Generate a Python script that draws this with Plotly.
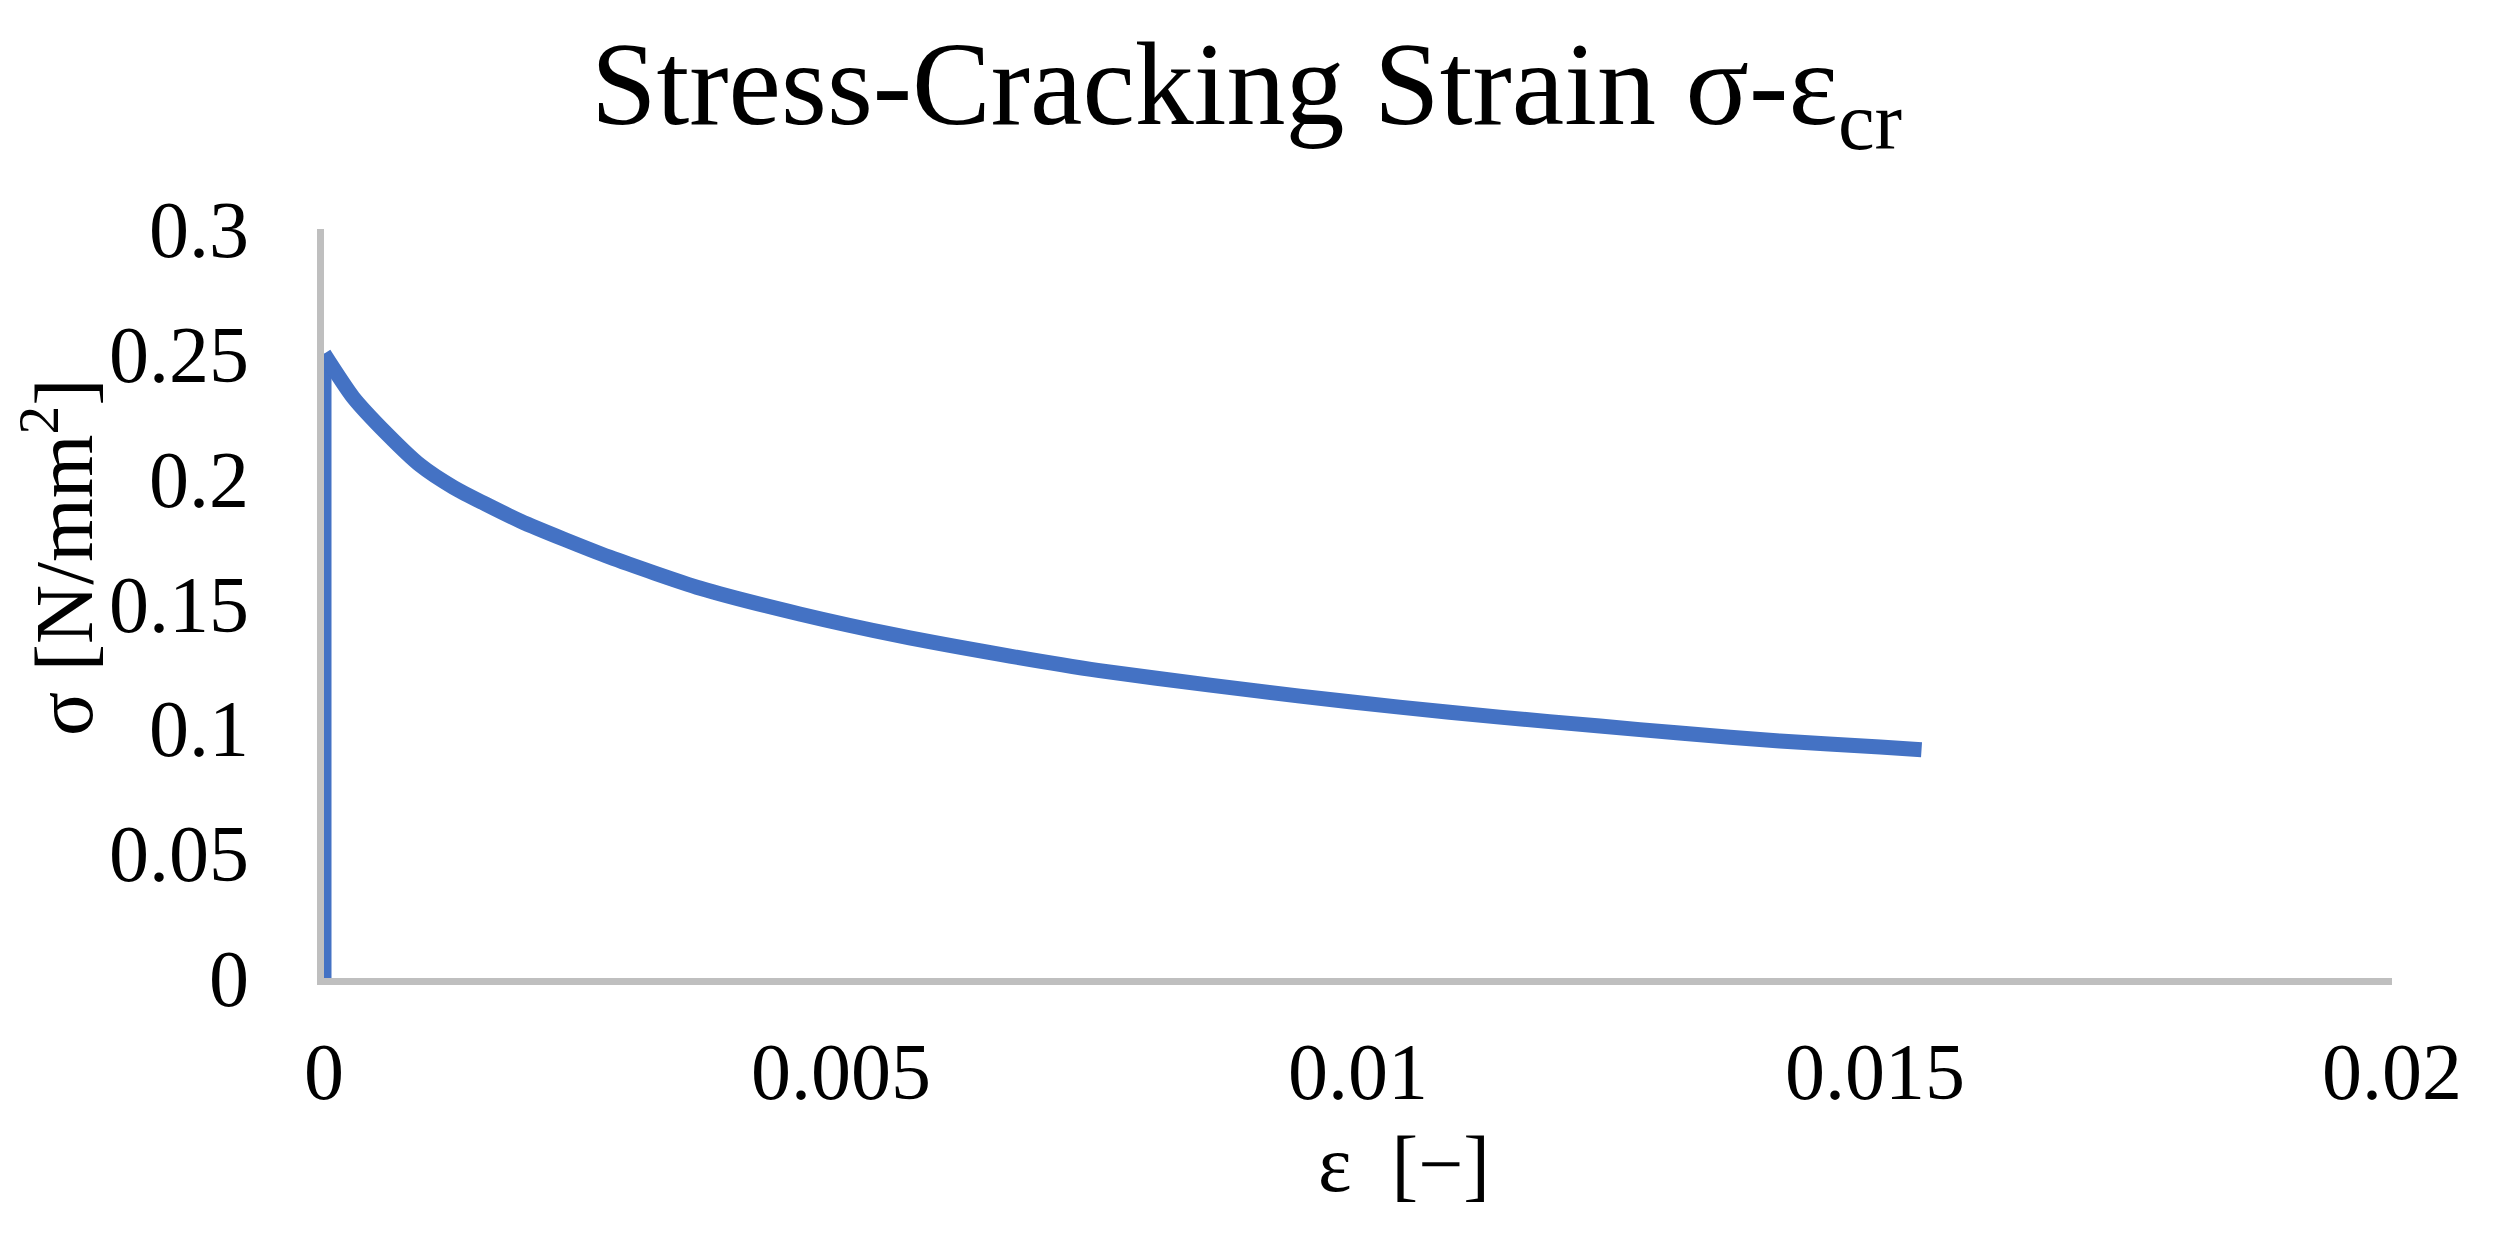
import plotly.graph_objects as go

# Data
strain = [0, 0, 0.00028, 0.00061, 0.00093, 0.00125, 0.0019, 0.00276, 0.00364,
          0.0046, 0.00557, 0.00654, 0.0075, 0.00857, 0.00944, 0.0104, 0.01137,
          0.01234, 0.01311, 0.01408, 0.01505, 0.01545]
stress = [0, 0.25, 0.2327, 0.2179, 0.2054, 0.1966, 0.183, 0.1686, 0.1561,
          0.1458, 0.137, 0.1296, 0.1231, 0.1173, 0.1129, 0.1085, 0.1045,
          0.1009, 0.0981, 0.0949, 0.0925, 0.0914]

x_ticks = [0, 0.005, 0.01, 0.015, 0.02]
x_tick_labels = ["0", "0.005", "0.01", "0.015", "0.02"]
y_ticks = [0, 0.05, 0.1, 0.15, 0.2, 0.25, 0.3]
y_tick_labels = ["0", "0.05", "0.1", "0.15", "0.2", "0.25", "0.3"]

FONT = "Liberation Serif"
W, H = 2493, 1241
L, R, T, B = 324, 101, 229, 263
BLUE = "#4472C4"
LW = 15

fig = go.Figure()
# initial vertical rise (linear)
fig.add_trace(go.Scatter(
    x=strain[:2], y=stress[:2], mode="lines",
    line=dict(color=BLUE, width=LW),
    showlegend=False, hoverinfo="skip",
))
# softening branch (smoothed like the original)
fig.add_trace(go.Scatter(
    x=strain[1:], y=stress[1:], mode="lines",
    line=dict(color=BLUE, width=LW, shape="spline", smoothing=0.6),
    showlegend=False, hoverinfo="skip",
))

fig.update_layout(
    width=W, height=H,
    margin=dict(l=L, r=R, t=T, b=B, pad=0),
    paper_bgcolor="white", plot_bgcolor="white",
    font=dict(family=FONT, color="black", size=80),
    title=dict(
        text="Stress-Cracking Strain σ-ε<sub>cr</sub>",
        font=dict(family=FONT, size=118, color="black"),
        x=0.5, xanchor="center", xref="container",
        y=1 - 83 / H, yanchor="middle", yref="container",
    ),
    xaxis=dict(
        range=[0, 0.02], tickvals=x_ticks, ticktext=x_tick_labels,
        showgrid=False, zeroline=False,
        showline=True, linecolor="#BFBFBF", linewidth=7,
        ticks="", ticklabelstandoff=18,
        tickfont=dict(family=FONT, size=80, color="black"),
    ),
    yaxis=dict(
        range=[0, 0.3], tickvals=y_ticks, ticktext=y_tick_labels,
        showgrid=False, zeroline=False,
        showline=True, linecolor="#BFBFBF", linewidth=7,
        ticks="", ticklabelstandoff=52,
        tickfont=dict(family=FONT, size=80, color="black"),
    ),
    annotations=[
        dict(text="ε  [−]", xref="paper", yref="paper",
             x=(1404 - L) / (W - L - R), y=(H - B - 1164) / (H - T - B),
             xanchor="center", yanchor="middle", showarrow=False,
             font=dict(family=FONT, size=80, color="black")),
        dict(text="σ [N/mm<sup>2</sup>]", xref="paper", yref="paper",
             x=(58 - L) / (W - L - R), y=(H - B - 557) / (H - T - B),
             xanchor="center", yanchor="middle", showarrow=False, textangle=-90,
             font=dict(family=FONT, size=82, color="black")),
    ],
)

fig.write_html("out.html", config={"displayModeBar": False},
               post_script="document.body.style.margin='0px';")
